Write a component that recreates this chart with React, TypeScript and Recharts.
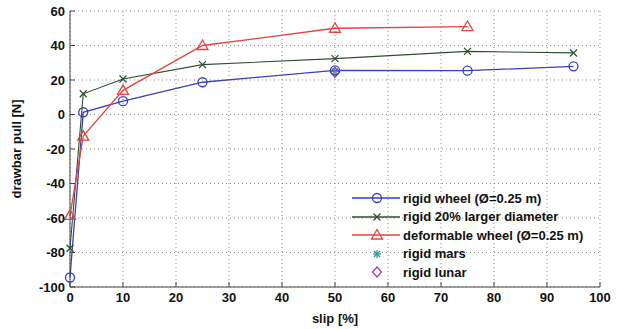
import { LineChart, Line, XAxis, YAxis, CartesianGrid } from 'recharts';

const slip = [0, 2.5, 10, 25, 50, 75, 95];
const rigidWheel = [-94.5, 1.3, 7.7, 18.7, 25.6, 25.4, 27.9];
const rigidLarger = [-77.5, 12, 20.6, 28.9, 32.4, 36.6, 35.7];
const deformable = [-58.5, -12.5, 14, 40, 50, 51, null];
const rigidMars = [null, null, null, null, 25, null, null];
const rigidLunar = [null, null, null, null, 24.5, null, null];

const xTicks = [0, 10, 20, 30, 40, 50, 60, 70, 80, 90, 100];
const yTicks = [-100, -80, -60, -40, -20, 0, 20, 40, 60];

const legendNames = [
  'rigid wheel (\u00D8=0.25 m)',
  'rigid 20% larger diameter',
  'deformable wheel (\u00D8=0.25 m)',
  'rigid mars',
  'rigid lunar',
];

const BLUE = '#3a3fb8';
const GREEN = '#2c4f30';
const RED = '#e2443f';
const TEAL = '#2a9c98';
const PURPLE = '#9c3fa8';

const data = slip.map((s, i) => ({
  slip: s,
  wheel: rigidWheel[i],
  larger: rigidLarger[i],
  deform: deformable[i],
  mars: rigidMars[i],
  lunar: rigidLunar[i],
}));

type Mk = 'circle' | 'cross' | 'tri' | 'star' | 'diamond';

function marker(kind: Mk, cx: number, cy: number, color: string, key?: string) {
  const s = 4.5;
  if (kind === 'circle')
    return <circle key={key} cx={cx} cy={cy} r={s} fill="none" stroke={color} strokeWidth={1.3} />;
  if (kind === 'cross')
    return (
      <g key={key} stroke={color} strokeWidth={1.3}>
        <line x1={cx - 3.5} y1={cy - 3.5} x2={cx + 3.5} y2={cy + 3.5} />
        <line x1={cx - 3.5} y1={cy + 3.5} x2={cx + 3.5} y2={cy - 3.5} />
      </g>
    );
  if (kind === 'tri')
    return (
      <polygon
        key={key}
        points={`${cx},${cy - 5.5} ${cx - 5.5},${cy + 4} ${cx + 5.5},${cy + 4}`}
        fill="none"
        stroke={color}
        strokeWidth={1.3}
      />
    );
  if (kind === 'star')
    return (
      <g key={key} stroke={color} strokeWidth={1.3}>
        <line x1={cx - 4} y1={cy} x2={cx + 4} y2={cy} />
        <line x1={cx} y1={cy - 4} x2={cx} y2={cy + 4} />
        <line x1={cx - 3} y1={cy - 3} x2={cx + 3} y2={cy + 3} />
        <line x1={cx - 3} y1={cy + 3} x2={cx + 3} y2={cy - 3} />
      </g>
    );
  return (
    <polygon
      key={key}
      points={`${cx},${cy - 5} ${cx + 4.5},${cy} ${cx},${cy + 5} ${cx - 4.5},${cy}`}
      fill="none"
      stroke={color}
      strokeWidth={1.3}
    />
  );
}

const dotFn = (kind: Mk, color: string) => (p: any) => {
  if (p.cy == null || p.value == null || isNaN(p.cy)) return <g key={p.key} />;
  return marker(kind, p.cx, p.cy, color, p.key);
};

const legendItems: { kind: Mk; color: string; line: boolean }[] = [
  { kind: 'circle', color: BLUE, line: true },
  { kind: 'cross', color: GREEN, line: true },
  { kind: 'tri', color: RED, line: true },
  { kind: 'star', color: TEAL, line: false },
  { kind: 'diamond', color: PURPLE, line: false },
];

const tickStyle = { fill: '#111', fontSize: 13, fontWeight: 'bold' as const };

export default function App() {
  return (
    <div
      style={{
        position: 'absolute',
        left: 0,
        top: 0,
        width: 622,
        height: 329,
        background: '#fff',
        fontFamily: '"Liberation Sans", Arial, sans-serif',
      }}
    >
      <LineChart
        width={622}
        height={329}
        data={data}
        margin={{ top: 11, right: 22, left: 10, bottom: 5 }}
      >
        <CartesianGrid stroke="#8a8a8a" strokeDasharray="1 3" />
        <XAxis
          dataKey="slip"
          type="number"
          domain={[0, 100]}
          ticks={xTicks}
          height={37}
          tick={tickStyle}
          tickSize={-5}
          tickMargin={11}
          axisLine={{ stroke: '#444' }}
          tickLine={{ stroke: '#444' }}
          label={{
            value: 'slip [%]',
            position: 'insideBottom',
            offset: 1,
            fill: '#111',
            fontSize: 13,
            fontWeight: 'bold',
          }}
        />
        <XAxis
          xAxisId="top"
          orientation="top"
          dataKey="slip"
          type="number"
          domain={[0, 100]}
          ticks={xTicks}
          height={0}
          tickFormatter={() => ''}
          tickSize={-5}
          axisLine={{ stroke: '#444' }}
          tickLine={{ stroke: '#444' }}
        />
        <YAxis
          type="number"
          domain={[-100, 60]}
          ticks={yTicks}
          width={60}
          tick={tickStyle}
          tickSize={-5}
          tickMargin={10}
          axisLine={{ stroke: '#444' }}
          tickLine={{ stroke: '#444' }}
          label={{
            value: 'drawbar pull [N]',
            angle: -90,
            position: 'insideLeft',
            offset: 6,
            fill: '#111',
            fontSize: 13,
            fontWeight: 'bold',
            style: { textAnchor: 'middle' },
          }}
        />
        <YAxis
          yAxisId="right"
          orientation="right"
          type="number"
          domain={[-100, 60]}
          ticks={yTicks}
          width={0}
          tickFormatter={() => ''}
          tickSize={-5}
          axisLine={{ stroke: '#444' }}
          tickLine={{ stroke: '#444' }}
        />
        <Line
          dataKey="mars"
          stroke="none"
          dot={dotFn('star', TEAL)}
          isAnimationActive={false}
        />
        <Line
          dataKey="lunar"
          stroke="none"
          dot={dotFn('diamond', PURPLE)}
          isAnimationActive={false}
        />
        <Line
          type="linear"
          dataKey="wheel"
          stroke={BLUE}
          strokeWidth={1.3}
          dot={dotFn('circle', BLUE)}
          isAnimationActive={false}
        />
        <Line
          type="linear"
          dataKey="larger"
          stroke={GREEN}
          strokeWidth={1.1}
          dot={dotFn('cross', GREEN)}
          isAnimationActive={false}
        />
        <Line
          type="linear"
          dataKey="deform"
          stroke={RED}
          strokeWidth={1.3}
          dot={dotFn('tri', RED)}
          isAnimationActive={false}
        />
      </LineChart>
      <div style={{ position: 'absolute', left: 350, top: 189 }}>
        {legendItems.map((it, i) => (
          <div
            key={i}
            style={{ display: 'flex', alignItems: 'center', height: 18.5, background: 'transparent' }}
          >
            <svg width={52} height={18} style={{ display: 'block' }}>
              {it.line && <line x1={2} y1={9} x2={50} y2={9} stroke={it.color} strokeWidth={1.3} />}
              {marker(it.kind, 27, 9, it.color)}
            </svg>
            <span
              style={{
                fontSize: 13,
                fontWeight: 'bold',
                color: '#111',
                marginLeft: 1,
                whiteSpace: 'nowrap',
              }}
            >
              {legendNames[i]}
            </span>
          </div>
        ))}
      </div>
    </div>
  );
}
